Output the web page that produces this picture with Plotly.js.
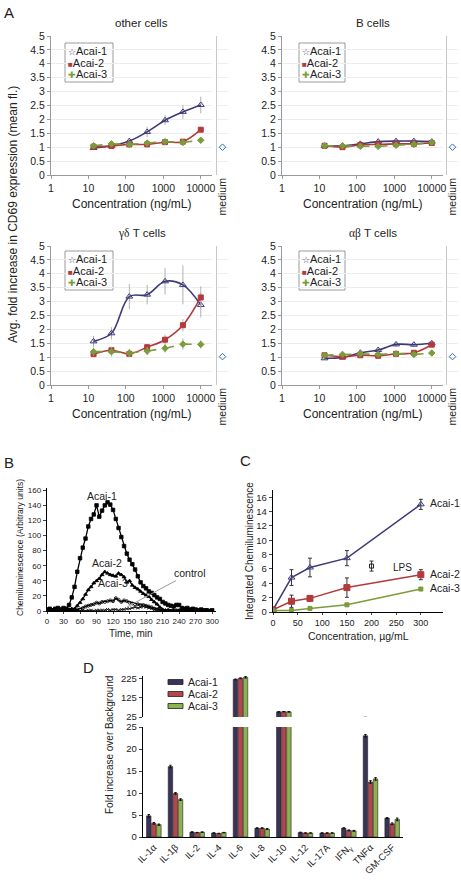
<!DOCTYPE html>
<html><head><meta charset="utf-8">
<script src="https://cdn.plot.ly/plotly-3.0.1.min.js"></script>
<style>html,body{margin:0;padding:0;background:#fff}#chart{width:461px;height:882px}</style>
</head><body><div id="chart"></div>
<script>
// ---------- DATA ----------
// Panel A: CD69 fold increase vs concentration (ng/mL)
const concA = [13.7, 41.2, 123.5, 370, 1111, 3333, 10000];
const seriesNames = ['Acai-1', 'Acai-2', 'Acai-3'];
const mediumCat = ['medium'];

const other1 = [0.97, 1.05, 1.22, 1.55, 1.97, 2.27, 2.52];
const other1Err = [0.05, 0.05, 0.08, 0.18, 0.18, 0.25, 0.30];
const other2 = [1.02, 1.04, 1.10, 1.10, 1.18, 1.20, 1.63];
const other2Err = [0.05, 0.05, 0.05, 0.05, 0.05, 0.05, 0.08];
const other3 = [1.05, 1.12, 1.10, 1.15, 1.20, 1.17, 1.25];
const other3Err = [0.05, 0.05, 0.05, 0.05, 0.05, 0.05, 0.06];
const otherMedium = [1.0];

const bcell1 = [1.05, 1.05, 1.12, 1.20, 1.22, 1.22, 1.20];
const bcell1Err = [0.05, 0.05, 0.06, 0.07, 0.08, 0.08, 0.06];
const bcell2 = [1.05, 1.00, 1.08, 1.10, 1.12, 1.12, 1.15];
const bcell2Err = [0.04, 0.04, 0.05, 0.05, 0.05, 0.05, 0.05];
const bcell3 = [1.05, 1.05, 1.03, 1.03, 1.07, 1.10, 1.17];
const bcell3Err = [0.04, 0.04, 0.04, 0.04, 0.05, 0.05, 0.05];
const bcellMedium = [1.0];

const gd1 = [1.57, 1.86, 3.18, 3.25, 3.73, 3.60, 2.88];
const gd1Err = [0.20, 0.22, 0.45, 0.35, 0.48, 0.70, 0.45];
const gd2 = [1.11, 1.25, 1.12, 1.36, 1.63, 2.15, 3.15];
const gd2Err = [0.10, 0.10, 0.10, 0.12, 0.18, 0.22, 0.40];
const gd3 = [1.20, 1.20, 1.15, 1.22, 1.32, 1.47, 1.46];
const gd3Err = [0.15, 0.18, 0.15, 0.15, 0.15, 0.20, 0.15];
const gdMedium = [1.02];

const ab1 = [0.96, 0.99, 1.16, 1.26, 1.46, 1.45, 1.50];
const ab1Err = [0.05, 0.05, 0.06, 0.08, 0.08, 0.08, 0.10];
const ab2 = [1.07, 1.02, 1.07, 1.05, 1.12, 1.16, 1.45];
const ab2Err = [0.04, 0.04, 0.05, 0.05, 0.05, 0.06, 0.08];
const ab3 = [1.07, 1.10, 1.12, 1.10, 1.12, 1.10, 1.15];
const ab3Err = [0.04, 0.04, 0.05, 0.05, 0.05, 0.05, 0.06];
const abMedium = [1.02];

const tickValsA = [1, 10, 100, 1000, 10000];
const tickTextA = ['1', '10', '100', '1000', '10000'];

// Panel B: chemiluminescence time course
const timeB = [0,5,10,15,20,25,30,35,40,45,50,55,60,65,70,75,80,85,90,95,100,105,110,115,120,125,130,135,140,145,150,155,160,165,170,175,180,185,190,195,200,205,210,215,220,225,230,235,240,245,250,255,260,265,270,275,280,285,290,295,300];
const chemi1 = [2,3,1,3,4,2,4,3,8,18,32,52,70,84,96,112,122,128,140,125,133,140,144,141,134,122,110,98,86,76,68,62,55,46,38,33,30,26,24,21,18,16,12,10,8,7,6,8,8,4,3,4,2,3,2,1,2,1,1,0,1];
const chemi2 = [1,2,1,2,1,2,1,2,2,3,3,7,11,16,22,28,32,37,40,43,48,52,50,48,47,46,50,48,45,38,40,34,31,29,26,23,21,19,15,12,9,5,2,1,1,0,1,0,1,0,0,1,0,0,1,0,0,0,1,0,0];
const chemi3 = [0,1,0,1,0,1,1,0,1,1,1,2,2,4,6,7,8,9,11,10,12,12,13,14,13,17,15,12,14,13,11,10,9,9,8,8,7,6,5,3,2,1,1,0,1,0,0,1,0,0,0,0,1,0,0,0,0,0,0,0,0];
const chemiCtrl = [0,0,1,0,0,1,0,0,1,0,0,1,0,1,0,1,1,0,1,1,1,1,2,1,2,2,1,2,2,3,3,4,5,4,5,6,5,4,3,2,1,1,0,0,0,1,0,0,0,0,0,0,0,0,0,0,0,0,0,0,0];
const tickValsB = [0,30,60,90,120,150,180,210,240,270,300];

// Panel C: integrated chemiluminescence vs concentration
const concC = [0, 37.5, 75, 150, 300];
const integ1 = [0.3, 4.8, 6.2, 7.5, 15.0];
const integ1Err = [0, 1.1, 1.3, 1.05, 0.7];
const integ2 = [0.3, 1.5, 1.9, 3.4, 5.2];
const integ2Err = [0, 0.85, 0.35, 1.35, 0.7];
const integ3 = [0.2, 0.2, 0.5, 1.0, 3.2];
const integ3Err = [0, 0.1, 0.1, 0.15, 0.2];
const lpsConc = [200];
const lpsVal = [6.4];
const lpsErr = [0.7];

// Panel D: cytokines
const cytokines = ['IL-1α','IL-1β','IL-2','IL-4','IL-6','IL-8','IL-10','IL-12','IL-17A','IFN<sub>γ</sub>','TNFα','GM-CSF'];
const cyto1 = [4.8, 16.0, 1.1, 0.9, 222, 2.0, 52, 1.0, 0.9, 2.0, 23.0, 4.3];
const cyto1Err = [0.3, 0.3, 0.1, 0.05, 2, 0.1, 1, 0.1, 0.05, 0.1, 0.3, 0.1];
const cyto2 = [3.1, 9.9, 1.0, 0.8, 228, 2.0, 53, 0.9, 0.9, 1.5, 12.5, 3.0];
const cyto2Err = [0.2, 0.2, 0.05, 0.05, 2, 0.1, 1, 0.05, 0.05, 0.1, 0.3, 0.2];
const cyto3 = [2.8, 8.5, 1.1, 1.0, 233, 1.8, 52, 0.9, 0.9, 1.4, 13.2, 4.0];
const cyto3Err = [0.15, 0.2, 0.05, 0.05, 4, 0.1, 1, 0.05, 0.05, 0.1, 0.3, 0.3];

// ---------- STYLE / LAYOUT HELPERS ----------
const W = 461, H = 882;
const FONT = 'Liberation Sans, Arial, sans-serif';
const SERIF = 'Liberation Serif, Times New Roman, serif';
const px = v => v / W;
const py = v => 1 - v / H;
const dx = (a, b) => [a / W, b / W];
const dy = (top, bot) => [1 - bot / H, 1 - top / H];

const colA = ['#3d3a78', '#b23a3c', '#7b9c3a'];
const symA = ['triangle-up-open', 'square', 'diamond'];
const colD = ['#3b3357', '#b5464b', '#8db24f'];

const traces = [];
const annotations = [];
const shapes = [];
function note(o) {
  annotations.push(Object.assign({xref: 'paper', yref: 'paper', showarrow: false, xanchor: 'center', yanchor: 'middle'}, o));
}

// ---------- PANEL A ----------
const panelsA = [
  {title: 'other cells', data: [[other1, other1Err], [other2, other2Err], [other3, other3Err]], med: otherMedium, col: 0, row: 0},
  {title: 'B cells', data: [[bcell1, bcell1Err], [bcell2, bcell2Err], [bcell3, bcell3Err]], med: bcellMedium, col: 1, row: 0},
  {title: '<span style="font-family:' + SERIF + '">γδ</span> T cells', data: [[gd1, gd1Err], [gd2, gd2Err], [gd3, gd3Err]], med: gdMedium, col: 0, row: 1},
  {title: '<span style="font-family:' + SERIF + '">αβ</span> T cells', data: [[ab1, ab1Err], [ab2, ab2Err], [ab3, ab3Err]], med: abMedium, col: 1, row: 1}
];
const colMain = [[51, 212], [282, 443]];
const colMed = [[217, 228], [447, 458]];
const rowDom = [[36, 175], [246, 385]];
const legBox = [[[65, 113], [43, 82]], [[299, 345], [43, 82]]];
const layout = {
  width: W, height: H, margin: {l: 0, r: 0, t: 0, b: 0},
  paper_bgcolor: '#fff', plot_bgcolor: 'rgba(0,0,0,0)',
  showlegend: false, font: {family: FONT, color: '#222', size: 10},
  bargap: 0.3, bargroupgap: 0.12
};

panelsA.forEach((p, i) => {
  const xi = 2 * i + 1, mi = 2 * i + 2;
  const xn = xi === 1 ? '' : String(xi);
  const xk = 'xaxis' + xn, yk = 'yaxis' + xn;
  const xm = 'xaxis' + mi, ym = 'yaxis' + mi;
  const [cx0, cx1] = colMain[p.col];
  const [rt, rb] = rowDom[p.row];
  layout[xk] = {domain: dx(cx0, cx1), anchor: 'y' + xn, type: 'log', range: [0, 4.3],
    tickvals: tickValsA, ticktext: tickTextA, showline: true, linecolor: '#9a9a9a', ticks: 'outside', ticklen: 3,
    tickcolor: '#9a9a9a', showgrid: false, zeroline: false, tickfont: {size: 10.5}};
  layout[yk] = {domain: dy(rt, rb), anchor: 'x' + xn, range: [0, 5], dtick: 0.5, showline: true, linecolor: '#9a9a9a',
    ticks: 'outside', ticklen: 3, tickcolor: '#9a9a9a', gridcolor: '#ededed', zeroline: false, tickfont: {size: 10.5}};
  layout[xm] = {domain: dx(colMed[p.col][0], colMed[p.col][1]), anchor: 'y' + mi, type: 'category',
    tickangle: -90, showline: false, ticks: '', showgrid: false, tickfont: {size: 10.5}};
  layout[ym] = {domain: dy(rt, rb), anchor: 'x' + mi, range: [0, 5], dtick: 0.5, showline: true, linecolor: '#c8c8c8',
    showticklabels: false, ticks: '', gridcolor: '#ededed', zeroline: false};
  p.data.forEach((d, s) => {
    traces.push({x: concA, y: d[0], xaxis: 'x' + xn, yaxis: 'y' + xn, type: 'scatter', mode: 'lines+markers',
      name: seriesNames[s],
      line: {color: colA[s], width: 1.6, shape: s === 2 ? 'linear' : 'spline', dash: s === 2 ? 'dash' : 'solid'},
      marker: {symbol: symA[s], size: s === 0 ? 6 : 5, color: colA[s], line: {color: colA[s], width: 1}},
      error_y: {type: 'data', array: d[1], visible: true, color: '#b0b0b0', thickness: 1, width: 0}});
  });
  traces.push({x: mediumCat, y: p.med, xaxis: 'x' + mi, yaxis: 'y' + mi, type: 'scatter', mode: 'markers',
    marker: {symbol: 'diamond-open', size: 5, color: '#2f6db3', line: {width: 1}}});
  note({text: p.title, x: px((cx0 + cx1) / 2 + 10), y: py(rt - 13), font: {size: 11.5}});
  note({text: 'Concentration (ng/mL)', x: px((cx0 + cx1) / 2), y: py(rb + 29), font: {size: 12}});
  const lb = legBox[p.col];
  const off = p.row === 1 ? 208 : 0;
  shapes.push({type: 'rect', xref: 'paper', yref: 'paper', x0: px(lb[0][0]), x1: px(lb[0][1]),
    y0: py(lb[1][0] + off), y1: py(lb[1][1] + off), line: {color: '#9a9a9a', width: 1}, fillcolor: '#fff', layer: 'below'});
  const glyphs = ['☆', '■', '✚'];
  seriesNames.forEach((n, s) => {
    note({text: '<span style="color:' + colA[s] + ';font-size:' + (s === 1 ? 8 : 9) + 'px">' + glyphs[s] + '</span>' + n,
      x: px(lb[0][0] + 1), y: py(lb[1][0] + off + 8 + s * 11.7), xanchor: 'left', font: {size: 11}});
  });
});
note({text: 'Avg. fold increase in CD69 expression (mean fl.)', x: px(13), y: py(215), textangle: -90, font: {size: 12}});

// ---------- PANEL B ----------
layout.xaxis9 = {domain: dx(47, 216), anchor: 'y9', range: [0, 307], tickvals: tickValsB, showline: true, linecolor: '#000',
  linewidth: 1.2, ticks: 'outside', ticklen: 2, showgrid: false, zeroline: false, tickfont: {size: 8}};
layout.yaxis9 = {domain: dy(488, 611), anchor: 'x9', range: [0, 163], dtick: 20, showline: true, linecolor: '#000',
  linewidth: 1.2, ticks: 'outside', ticklen: 3, showgrid: false, zeroline: false, tickfont: {size: 8}};
const bSeries = [[chemi1, 'square', 3.5], [chemi2, 'triangle-up', 3.5], [chemi3, 'circle-open', 3], [chemiCtrl, 'x-thin-open', 3]];
bSeries.forEach((b, i) => {
  traces.push({x: timeB, y: b[0], xaxis: 'x9', yaxis: 'y9', type: 'scatter', mode: 'lines+markers',
    line: {color: '#000', width: i === 3 ? 0.8 : 1.3}, marker: {symbol: b[1], size: b[2], color: '#000', line: {color: '#000', width: 0.8}}});
});
note({text: 'Time, min', x: px(131), y: py(633), font: {size: 10}});
note({text: 'Chemiluminescence (Arbitrary units)', x: px(20), y: py(548), textangle: -90, font: {size: 8.5}});
note({text: 'Acai-1', x: px(102), y: py(496), font: {size: 10.5}});
note({text: 'Acai-2', x: px(107), y: py(563), font: {size: 10.5}});
note({text: 'Acai-3', x: px(113), y: py(583), font: {size: 10.5}});
note({text: 'control', x: px(127), y: py(607), showarrow: true, arrowhead: 0, xanchor: 'auto', yanchor: 'auto',
  arrowcolor: '#999', arrowwidth: 1, ax: 63, ay: -34, font: {size: 10.5}});

// ---------- PANEL C ----------
layout.xaxis10 = {domain: dx(273, 443), anchor: 'y10', range: [0, 345], dtick: 50, showline: true, linecolor: '#000',
  linewidth: 1.2, ticks: 'outside', ticklen: 2, showgrid: false, zeroline: false, tickfont: {size: 9}};
layout.yaxis10 = {domain: dy(490, 612), anchor: 'x10', range: [0, 17], dtick: 2, showline: true, linecolor: '#000',
  linewidth: 1.2, ticks: 'outside', ticklen: 3, showgrid: false, zeroline: false, tickfont: {size: 9.5}};
const cSeries = [[integ1, integ1Err, 'triangle-up-open', 6], [integ2, integ2Err, 'square', 6], [integ3, integ3Err, 'square', 4]];
const colC = ['#3d3a78', '#b23a3c', '#7b9c3a'];
cSeries.forEach((c, i) => {
  traces.push({x: concC, y: c[0], xaxis: 'x10', yaxis: 'y10', type: 'scatter', mode: 'lines+markers',
    line: {color: colC[i], width: 1.5}, marker: {symbol: c[2], size: c[3], color: colC[i], line: {color: colC[i], width: 1}},
    error_y: {type: 'data', array: c[1], visible: true, color: '#333', thickness: 1, width: 2}});
});
traces.push({x: lpsConc, y: lpsVal, xaxis: 'x10', yaxis: 'y10', type: 'scatter', mode: 'markers',
  marker: {symbol: 'square-open', size: 4, color: '#222', line: {width: 1}},
  error_y: {type: 'data', array: lpsErr, visible: true, color: '#333', thickness: 1, width: 2}});
note({text: 'LPS', x: px(391), y: py(567), xanchor: 'left', font: {size: 10}});
['Acai-1', 'Acai-2', 'Acai-3'].forEach((t, i) => {
  note({text: t, x: px(428), y: py([503, 574, 588][i]), xanchor: 'left', font: {size: 10.5}});
});
note({text: 'Concentration, µg/mL', x: px(358), y: py(636), font: {size: 10.5}});
note({text: 'Integrated Chemiluminescence', x: px(249), y: py(551), textangle: -90, font: {size: 10}});

// ---------- PANEL D ----------
layout.xaxis11 = {domain: dx(143, 403), anchor: 'y11', type: 'category', showline: true, linecolor: '#000', linewidth: 1.2,
  ticks: '', tickangle: -45, tickfont: {size: 9.5}, showgrid: false};
layout.yaxis11 = {domain: dy(727, 837), anchor: 'x11', range: [0, 25], tickvals: [0, 5, 10, 15, 20, 25], showline: true,
  linecolor: '#000', linewidth: 1.2, ticks: 'outside', ticklen: 3, showgrid: false, zeroline: false, tickfont: {size: 9.5}};
layout.xaxis12 = {domain: dx(143, 403), anchor: 'y12', type: 'category', matches: 'x11', visible: false};
layout.yaxis12 = {domain: dy(676, 717), anchor: 'x12', range: [25, 240], tickvals: [25, 125, 225], showline: true,
  linecolor: '#000', linewidth: 1.2, ticks: 'outside', ticklen: 3, showgrid: false, zeroline: false, tickfont: {size: 9.5}};
const dSeries = [[cyto1, cyto1Err], [cyto2, cyto2Err], [cyto3, cyto3Err]];
['11', '12'].forEach(ax => {
  dSeries.forEach((d, i) => {
    traces.push({x: cytokines, y: d[0], xaxis: 'x' + ax, yaxis: 'y' + ax, type: 'bar', name: seriesNames[i],
      marker: {color: colD[i], line: {color: '#222', width: 0.6}},
      error_y: {type: 'data', array: d[1], visible: true, color: '#111', thickness: 1, width: 1.2}});
  });
});
seriesNames.forEach((n, i) => {
  const yy = 682 + i * 12;
  shapes.push({type: 'rect', xref: 'paper', yref: 'paper', x0: px(168), x1: px(183), y0: py(yy - 2.5), y1: py(yy + 2.5),
    fillcolor: colD[i], line: {color: '#222', width: 0.8}});
  note({text: n, x: px(186), y: py(yy), xanchor: 'left', font: {size: 10.5}});
});
note({text: 'Fold increase over Background', x: px(109), y: py(745), textangle: -90, font: {size: 10}});

// panel letters
[['A', 9, 12], ['B', 9, 462], ['C', 245, 460], ['D', 88, 667]].forEach(l => {
  note({text: l[0], x: px(l[1]), y: py(l[2]), font: {size: 15}});
});

layout.annotations = annotations;
layout.shapes = shapes;
Plotly.newPlot('chart', traces, layout, {displayModeBar: false, staticPlot: true});
</script></body></html>
